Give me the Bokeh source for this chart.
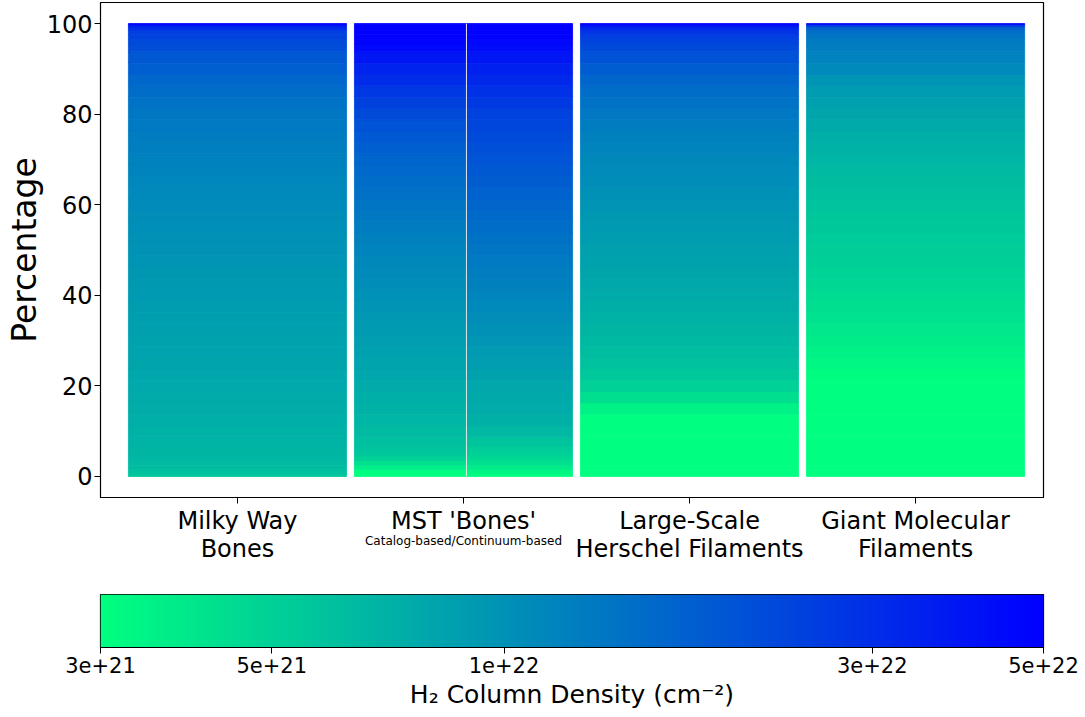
import numpy as np
from bokeh.plotting import figure
from bokeh.layouts import column
from bokeh.models import Range1d, FixedTicker, CustomJSTickFormatter, ColumnDataSource, LinearColorMapper
from bokeh.transform import log_cmap
from bokeh.embed import file_html
from bokeh.resources import INLINE

# ---------------- data ----------------
categories = ["Milky Way\nBones", "MST 'Bones'", "Large-Scale\nHerschel Filaments", "Giant Molecular\nFilaments"]
mst_sub_label = "Catalog-based/Continuum-based"

# cumulative percentage levels (%)
percent_levels = [0, 1, 2, 3, 4, 5, 6,
                  7.5, 10, 12.5, 15, 17.5, 20, 22.5,
                  25, 27.5, 30, 32.5, 35, 37.5, 40,
                  42.5, 45, 47.5, 50, 52.5, 55, 57.5,
                  60, 62.5, 65, 67.5, 70, 72.5, 75,
                  77.5, 80, 82.5, 85, 87.5, 90, 92.5,
                  95, 96, 97, 98, 99, 99.5, 100]

# H2 column density at each level (units of 1e21 cm^-2)
milky_way_bones = [5.6, 5.9, 6.2, 6.4, 6.55, 6.7, 6.8,
                   6.9, 7.1, 7.25, 7.4, 7.6, 7.8, 7.95,
                   8.1, 8.25, 8.4, 8.55, 8.7, 8.9, 9.1,
                   9.3, 9.5, 9.7, 9.9, 10.1, 10.3, 10.55,
                   10.8, 11.05, 11.3, 11.6, 11.9, 12.25, 12.6,
                   13.0, 13.4, 14.0, 14.8, 16.0, 17.5, 19.0,
                   21.0, 22.0, 23.5, 25.0, 30.0, 36.0, 50.0]
mst_catalog = [2.8, 3.0, 3.6, 4.2, 5.0, 5.5, 5.8,
               6.0, 6.4, 6.7, 7.0, 7.3, 7.6, 7.9,
               8.2, 8.5, 8.8, 9.1, 9.4, 9.7, 10.0,
               10.4, 10.8, 11.2, 11.6, 12.1, 12.6, 13.2,
               13.8, 14.4, 15.0, 15.6, 16.3, 17.5, 18.8,
               20.3, 22.0, 24.3, 27.0, 30.5, 34.0, 39.0,
               45.0, 48.0, 50.0, 50.0, 50.0, 50.0, 50.0]
mst_continuum = [3.0, 3.3, 3.7, 4.2, 4.6, 5.0, 5.3,
                 5.8, 6.6, 7.2, 7.5, 7.7, 7.9, 8.35,
                 8.8, 9.2, 9.6, 10.05, 10.5, 11.0, 11.5,
                 12.0, 12.5, 13.0, 13.6, 14.25, 14.9, 15.5,
                 16.2, 17.0, 17.8, 18.8, 19.8, 20.9, 22.0,
                 23.0, 24.0, 26.5, 29.0, 32.0, 35.0, 39.0,
                 44.0, 46.0, 48.0, 50.0, 50.0, 50.0, 50.0]
large_scale_herschel = [2.8, 2.8, 2.8, 2.8, 2.8, 2.8, 2.8,
                        2.8, 2.8, 3.0, 3.5, 4.3, 5.0, 5.5,
                        5.9, 6.2, 6.5, 6.8, 7.1, 7.35, 7.6,
                        7.85, 8.1, 8.35, 8.6, 8.9, 9.2, 9.5,
                        9.8, 10.1, 10.4, 10.8, 11.2, 11.6, 12.1,
                        12.7, 13.3, 14.0, 14.8, 16.2, 18.0, 20.0,
                        22.0, 23.5, 25.0, 28.0, 32.0, 38.0, 50.0]
giant_molecular = [2.8, 2.8, 2.8, 2.8, 2.8, 2.8, 2.8,
                   2.8, 2.8, 2.8, 2.8, 2.8, 2.9, 3.1,
                   3.3, 3.5, 3.7, 3.9, 4.1, 4.3, 4.5,
                   4.7, 4.9, 5.05, 5.2, 5.35, 5.5, 5.65,
                   5.8, 6.0, 6.2, 6.45, 6.7, 7.0, 7.3,
                   7.65, 8.0, 8.5, 9.0, 9.8, 11.0, 11.8,
                   12.5, 13.0, 13.5, 14.5, 17.0, 24.0, 45.0]

cbar_ticks = [3e21, 5e21, 1e22, 3e22, 5e22]
cbar_low, cbar_high = 3.0, 50.0   # 1e21 units

# ---------------- palette (matplotlib winter_r) ----------------
def winter_r(n=256):
    out = []
    for i in range(n):
        t = i / (n - 1)
        g = 1.0 - t
        b = 0.5 + 0.5 * t
        out.append("#%02x%02x%02x" % (0, int(round(g * 255)), int(round(b * 255))))
    return out

palette = winter_r()
FONT = "DejaVu Sans"
W = 1085
BL, BR = 100, 42

# ---------------- main figure ----------------
xr = Range1d(-0.606, 3.566)
p = figure(width=W, height=505, output_backend="svg", toolbar_location=None,
           x_range=xr, y_range=Range1d(-4.636, 104.64),
           min_border_left=BL, min_border_right=BR, min_border_top=2, min_border_bottom=8)
p.outline_line_color = "black"
p.outline_line_width = 1.2
p.xgrid.visible = False
p.ygrid.visible = False

half = 0.4825
split = 1.013
columns_def = [
    (milky_way_bones, 0 - half, 0 + half),
    (mst_catalog, 1 - half, split),
    (mst_continuum, split, 1 + half),
    (large_scale_herschel, 2 - half, 2 + half),
    (giant_molecular, 3 - half, 3 + half),
]

L = percent_levels
n = len(L)
bottoms = [L[0]] + [(L[i - 1] + L[i]) / 2 for i in range(1, n)]
tops = [(L[i] + L[i + 1]) / 2 for i in range(n - 1)] + [L[-1]]

left, right, bot, top, dens = [], [], [], [], []
for vals, x0, x1 in columns_def:
    for i in range(n):
        left.append(x0); right.append(x1)
        bot.append(bottoms[i]); top.append(tops[i])
        dens.append(vals[i])

src = ColumnDataSource(dict(left=left, right=right, bottom=bot, top=top, dens=dens))
cmap = log_cmap("dens", palette, low=cbar_low, high=cbar_high)
p.quad(left="left", right="right", bottom="bottom", top="top", source=src,
       fill_color=cmap, line_color=cmap, line_width=0.8)
p.segment(x0=[split], y0=[0], x1=[split], y1=[100], line_color="#e6e6e6", line_width=1)

p.xaxis.ticker = FixedTicker(ticks=[0, 1, 2, 3])
p.xaxis.formatter = CustomJSTickFormatter(code="return '';")
p.xaxis.major_label_text_font_size = "0px"
p.xaxis.major_label_standoff = 0
p.yaxis.ticker = FixedTicker(ticks=[0, 20, 40, 60, 80, 100])
for ax in (p.xaxis[0], p.yaxis[0]):
    ax.major_tick_in = 0
    ax.major_tick_out = 6
    ax.minor_tick_out = 0
    ax.minor_tick_in = 0
    ax.axis_line_color = "black"
    ax.major_tick_line_color = "black"
p.yaxis.major_label_text_font = FONT
p.yaxis.major_label_text_font_size = "24px"
p.yaxis.major_label_text_color = "black"
p.yaxis.major_label_standoff = 2
p.yaxis.axis_label = "Percentage"
p.yaxis.axis_label_text_font = FONT
p.yaxis.axis_label_text_font_size = "33px"
p.yaxis.axis_label_text_font_style = "normal"
p.yaxis.axis_label_text_color = "black"
p.yaxis.axis_label_standoff = 0

# ---------------- category label strip ----------------
lab = figure(width=W, height=75, output_backend="svg", toolbar_location=None,
             x_range=xr, y_range=Range1d(75, 0), x_axis_location=None, y_axis_location=None,
             min_border_left=BL, min_border_right=BR, min_border_top=0, min_border_bottom=0)
lab.outline_line_color = None
lab.xgrid.visible = False
lab.ygrid.visible = False
line1 = [c.split("\n")[0] for c in categories]
line2 = [c.split("\n")[1] if "\n" in c else "" for c in categories]
xs = list(range(len(categories)))
lab.text(x=xs, y=[15] * 4, text=line1, text_align="center", text_baseline="alphabetic",
         text_font={"value": FONT}, text_font_size="24px", text_color="black")
lab.text(x=xs, y=[43.5] * 4, text=line2, text_align="center", text_baseline="alphabetic",
         text_font={"value": FONT}, text_font_size="24px", text_color="black")
lab.text(x=[1], y=[35.5], text=[mst_sub_label], text_align="center", text_baseline="alphabetic",
         text_font={"value": FONT}, text_font_size="12px", text_color="black")

# ---------------- colorbar figure ----------------
c = figure(width=W, height=136, output_backend="svg", toolbar_location=None,
           x_axis_type="log", x_range=Range1d(cbar_ticks[0], cbar_ticks[-1]), y_range=Range1d(0, 1),
           min_border_left=BL, min_border_right=BR, min_border_top=14, min_border_bottom=69)
c.outline_line_color = "black"
c.outline_line_width = 1.2
c.xgrid.visible = False
c.ygrid.visible = False
c.yaxis.visible = False
grad = np.arange(len(palette), dtype=float).reshape(1, -1)
c.image(image=[grad], x=cbar_ticks[0], y=0, dw=cbar_ticks[-1] - cbar_ticks[0], dh=1,
        color_mapper=LinearColorMapper(palette=palette, low=0, high=len(palette) - 1))
c.xaxis.ticker = FixedTicker(ticks=cbar_ticks)
c.xaxis.formatter = CustomJSTickFormatter(code="return tick.toExponential();")
c.xaxis.major_label_text_font = FONT
c.xaxis.major_label_text_font_size = "21px"
c.xaxis.major_label_text_color = "black"
c.xaxis.major_tick_in = 0
c.xaxis.major_tick_out = 6
c.xaxis.minor_tick_in = 0
c.xaxis.minor_tick_out = 0
c.xaxis.major_label_standoff = 3
c.xaxis.axis_line_color = "black"
c.xaxis.axis_label = "H\u2082 Column Density (cm\u207b\u00b2)"
c.xaxis.axis_label_text_font = FONT
c.xaxis.axis_label_text_font_size = "25px"
c.xaxis.axis_label_text_font_style = "normal"
c.xaxis.axis_label_text_color = "black"
c.xaxis.axis_label_standoff = 4

layout = column(p, lab, c)
open("out.html", "w").write(file_html(layout, INLINE))
